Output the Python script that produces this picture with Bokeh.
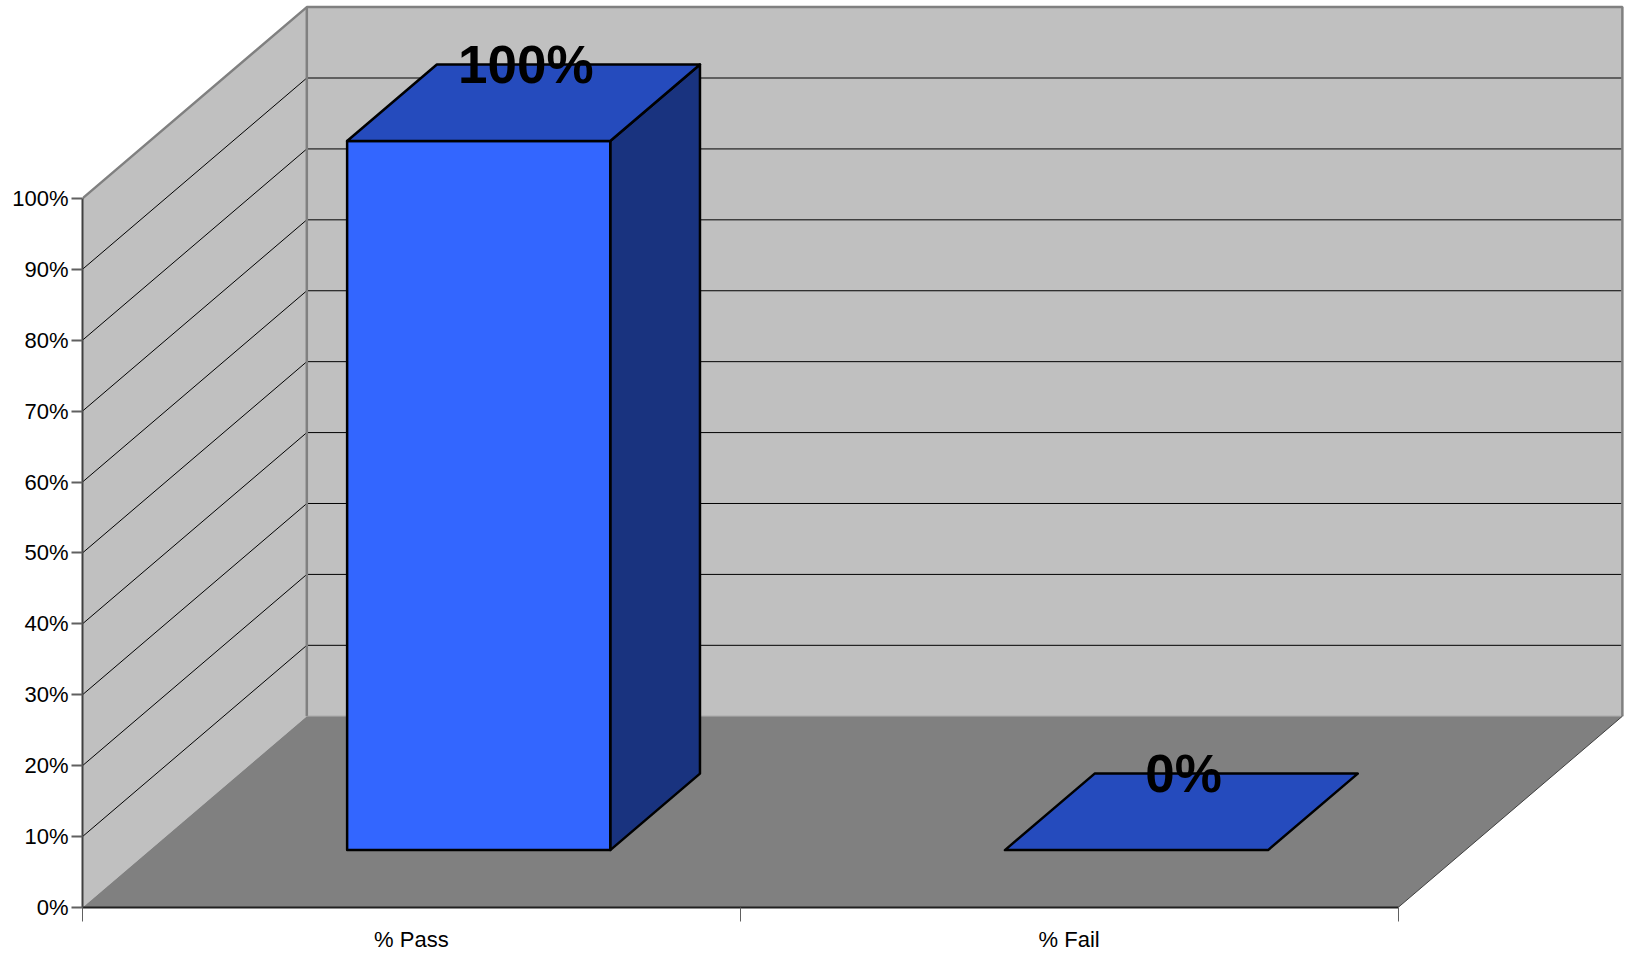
from bokeh.core.properties import value
from bokeh.embed import file_html
from bokeh.models import FixedTicker, LinearAxis, Range1d
from bokeh.plotting import figure
from bokeh.resources import INLINE

categories = ["% Pass", "% Fail"]
percentages = [100, 0]
value_labels = ["100%", "0%"]
value_ticks = [0, 10, 20, 30, 40, 50, 60, 70, 80, 90, 100]
value_tick_labels = ["0%", "10%", "20%", "30%", "40%", "50%", "60%", "70%", "80%", "90%", "100%"]

# Oblique projection of the chart box: depth z runs from 0 (front) to 1 (back).
DEPTH_X = 0.341    # category units at z = 1
DEPTH_Y = 26.97    # percentage points at z = 1
BAR_WIDTH = 0.4
BAR_Z = (0.30, 0.70)
LABEL_Z_X = 0.51
LABEL_Z_Y = 0.70

FONT = "Liberation Sans"
WALL = "#C0C0C0"
FLOOR = "#808080"
EDGE = "#808080"
FRONT_FACE = "#3366FF"
TOP_FACE = "#254BBD"
SIDE_FACE = "#19337F"


def px(c, z):
    return c + z * DEPTH_X


def py(v, z):
    return v + z * DEPTH_Y


n = len(categories)

p = figure(
    width=1628, height=954,
    x_range=Range1d(0, 2.3503), y_range=Range1d(0, 127.9),
    output_backend="svg", toolbar_location=None,
    x_axis_type=None, y_axis_type=None,
    min_border_left=82, min_border_right=0, min_border_top=0, min_border_bottom=46,
)
p.outline_line_color = None
p.xgrid.visible = False
p.ygrid.visible = False

# Walls and floor
p.patch([px(0, 0), px(0, 1), px(0, 1), px(0, 0)],
        [py(0, 0), py(0, 1), py(100, 1), py(100, 0)],
        fill_color=WALL, line_color=None)
p.patch([px(0, 1), px(n, 1), px(n, 1), px(0, 1)],
        [py(0, 1), py(0, 1), py(100, 1), py(100, 1)],
        fill_color=WALL, line_color=None)
p.patch([px(0, 0), px(n, 0), px(n, 1), px(0, 1)],
        [py(0, 0), py(0, 0), py(0, 1), py(0, 1)],
        fill_color=FLOOR, line_color=None)

# Gridlines bend from the side wall on to the back wall
for t in value_ticks[1:-1]:
    p.line([px(0, 0), px(0, 1), px(n, 1)], [py(t, 0), py(t, 1), py(t, 1)],
           line_color="#000000", line_width=1)

# Wall edges
p.line([px(0, 0), px(0, 1), px(n, 1), px(n, 1)],
       [py(100, 0), py(100, 1), py(100, 1), py(0, 1)],
       line_color=EDGE, line_width=2.5)
p.line([px(0, 1), px(0, 1)], [py(0, 1), py(100, 1)], line_color=EDGE, line_width=2.5)
p.line([px(0, 1), px(n, 1)], [py(0, 1), py(0, 1)], line_color="#999999", line_width=1)
p.line([px(n, 0), px(n, 1)], [py(0, 0), py(0, 1)], line_color="#404040", line_width=1)

# Bars, each made of its visible faces
z0, z1 = BAR_Z
for i, pct in enumerate(percentages):
    left = i + 0.5 - BAR_WIDTH / 2
    right = left + BAR_WIDTH
    if pct > 0:
        p.patch([px(right, z0), px(right, z1), px(right, z1), px(right, z0)],
                [py(0, z0), py(0, z1), py(pct, z1), py(pct, z0)],
                fill_color=SIDE_FACE, line_color="#000000", line_width=2.5, line_join="round")
        p.patch([px(left, z0), px(right, z0), px(right, z0), px(left, z0)],
                [py(0, z0), py(0, z0), py(pct, z0), py(pct, z0)],
                fill_color=FRONT_FACE, line_color="#000000", line_width=2.5, line_join="round")
    p.patch([px(left, z0), px(right, z0), px(right, z1), px(left, z1)],
            [py(pct, z0), py(pct, z0), py(pct, z1), py(pct, z1)],
            fill_color=TOP_FACE, line_color="#000000", line_width=2.5, line_join="round")

# Value labels
p.text(
    x=[px(i + 0.5, LABEL_Z_X) for i in range(n)],
    y=[py(v, LABEL_Z_Y) for v in percentages],
    text=value_labels,
    text_font=value(FONT), text_font_style="bold", text_font_size="53px",
    text_color="#000000", text_align="center", text_baseline="middle",
)

# Percentage axis on the front edge of the side wall
y_axis = LinearAxis(
    ticker=FixedTicker(ticks=value_ticks),
    major_label_overrides={t: s for t, s in zip(value_ticks, value_tick_labels)},
    bounds=(0, 100),
    axis_line_color="#404040", axis_line_width=2,
    major_tick_line_color="#606060", major_tick_line_width=2,
    major_tick_in=0, major_tick_out=11,
    minor_tick_in=0, minor_tick_out=0,
    major_label_text_font=FONT, major_label_text_font_size="22px",
    major_label_text_color="#000000", major_label_standoff=3,
)
p.add_layout(y_axis, "left")

# Category axis: labels sit mid-category, tick marks on the boundaries
x_axis = LinearAxis(
    ticker=FixedTicker(ticks=[i + 0.5 for i in range(n)], minor_ticks=list(range(n + 1))),
    major_label_overrides={i + 0.5: c for i, c in enumerate(categories)},
    bounds=(0, n),
    axis_line_color="#202020", axis_line_width=2,
    major_tick_line_color=None,
    major_tick_in=0, major_tick_out=0,
    minor_tick_line_color="#606060", minor_tick_line_width=1,
    minor_tick_in=0, minor_tick_out=14,
    major_label_text_font=FONT, major_label_text_font_size="22px",
    major_label_text_color="#000000", major_label_standoff=5,
)
p.add_layout(x_axis, "below")

open("out.html", "w").write(file_html(p, INLINE))
